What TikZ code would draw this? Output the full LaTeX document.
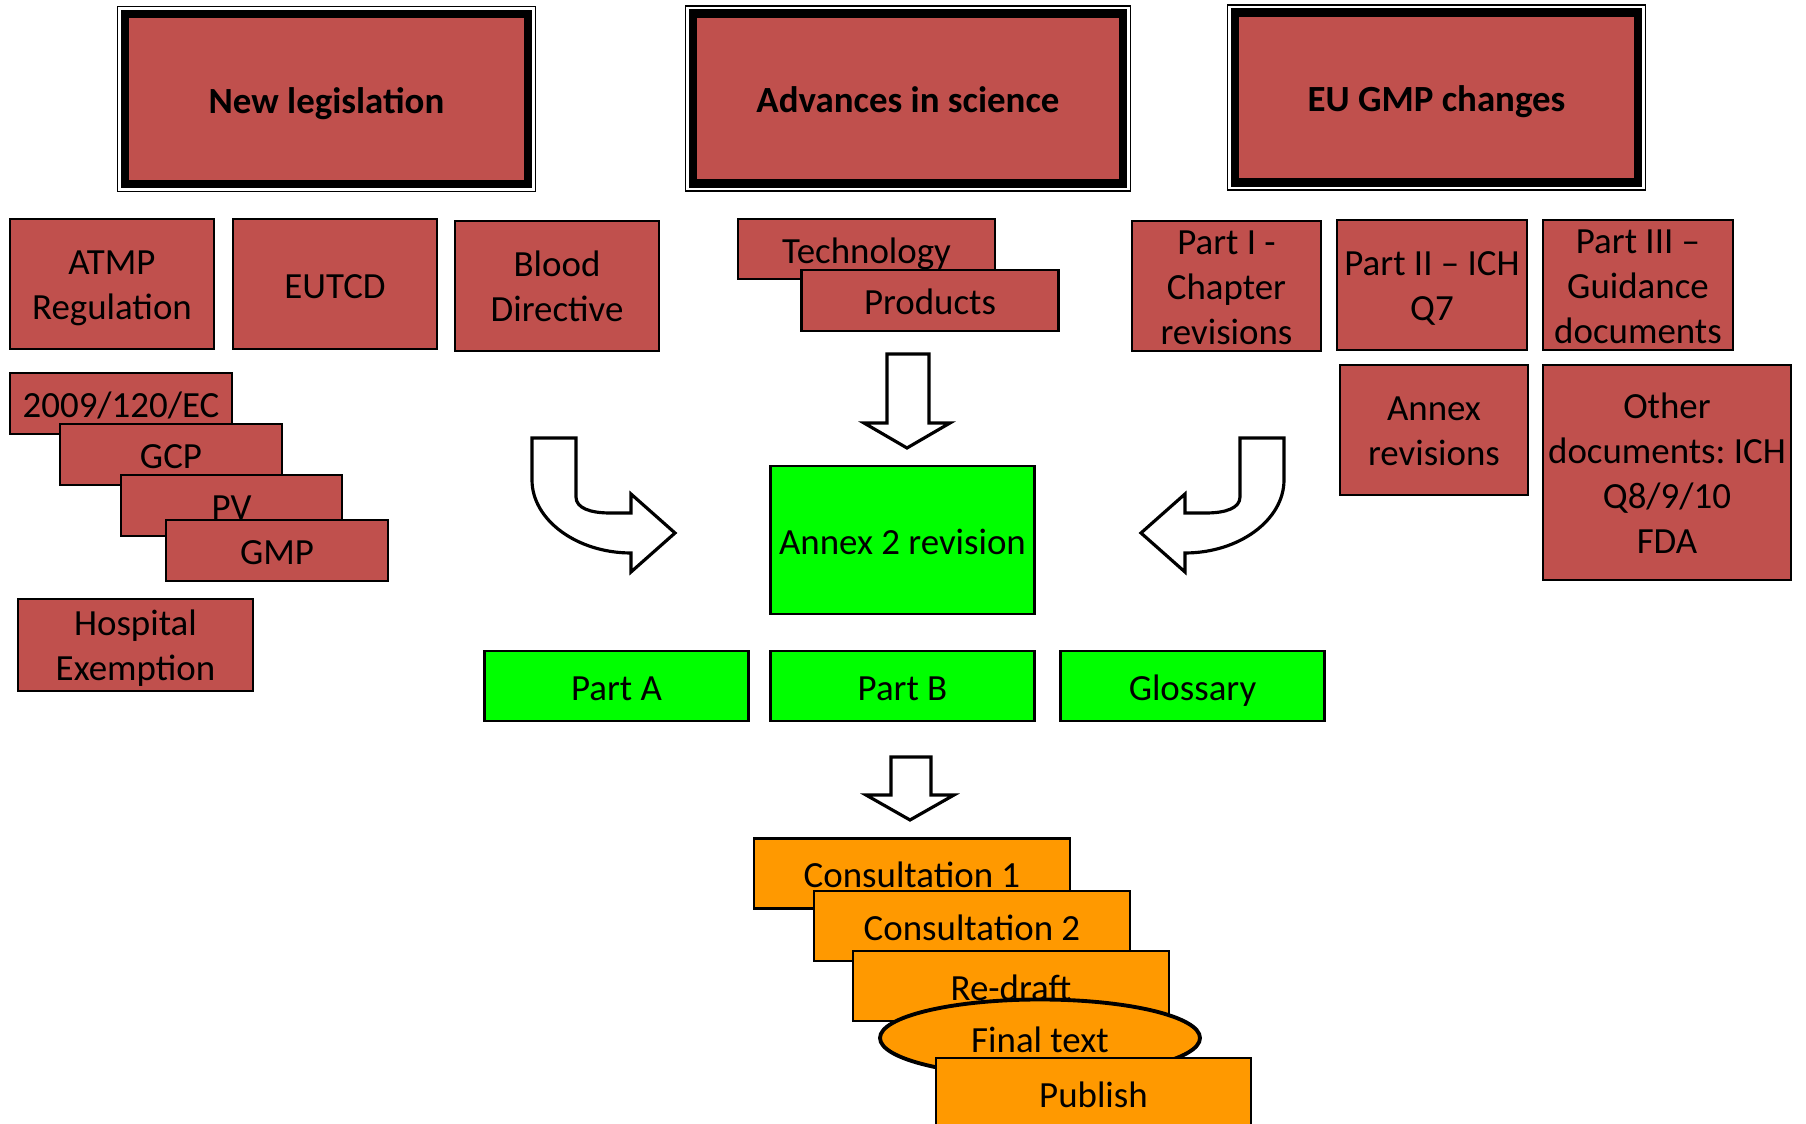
\documentclass[tikz,border=0pt]{standalone}
\usepackage{fontspec}
\setmainfont{Carlito}
\usetikzlibrary{positioning, shapes.geometric}
\definecolor{boxred}{RGB}{192, 80, 77}
\definecolor{revgreen}{RGB}{0, 255, 0}
\definecolor{steporange}{RGB}{255, 153, 0}
\newcommand{\linestrut}{\vrule height 10.4pt depth 2.4pt width 0pt}
\newcommand{\boxlines}[1]{\begin{tabular}{@{}c@{}}\vrule height 11.4pt width 0pt#1\end{tabular}}
\frenchspacing

\begin{document}
\begin{tikzpicture}[
        every node/.style={font=\fontsize{10.5}{12.8}\selectfont,
                           execute at begin node=\linestrut},
        headbox/.style={draw=black, line width=2.3pt, fill=boxred, outer sep=0pt,
                        font=\fontsize{10.5}{12.8}\selectfont\bfseries,
                        minimum height=1.70cm},
        srcbox/.style={draw=black, line width=0.6pt, fill=boxred, inner sep=0pt},
        revbox/.style={draw=black, line width=0.6pt, fill=revgreen,
                       inner sep=0pt, minimum width=2.64cm, minimum height=0.70cm},
        stepbox/.style={draw=black, line width=0.6pt, fill=steporange,
                        inner sep=0pt, minimum width=3.16cm, minimum height=0.70cm},
        blockarrow/.style={draw=black, line width=0.9pt, fill=white, line join=miter}
    ]
        \useasboundingbox (0, 0) rectangle (18.06, -11.24);
        \clip (0, 0) rectangle (18.06, -11.24);

        % three sources of change
        \node[headbox, minimum width=4.03cm] (newleg) at (3.265, -0.99)
            {New legislation};
        \node[headbox, minimum width=4.30cm] (science) at (9.08, -0.985)
            {Advances in science};
        \node[headbox, minimum width=4.03cm] (gmpchg) at (14.365, -0.975)
            {EU GMP changes};
        \foreach \h in {newleg, science, gmpchg}
            \draw[line width=0.45pt] ([shift={(-0.075, 0.075)}]\h.north west)
                rectangle ([shift={(0.075, -0.075)}]\h.south east);

        % legislation
        \node[srcbox, minimum width=2.04cm, minimum height=1.30cm] (atmp)
            at (1.12, -2.84) {\boxlines{ATMP\\Regulation}};
        \node[srcbox, minimum width=2.04cm, minimum height=1.30cm] (eutcd)
            at (3.35, -2.84) {EUTCD};
        \node[srcbox, minimum width=2.04cm, minimum height=1.30cm] (blood)
            at (5.57, -2.86) {\boxlines{Blood\\Directive}};
        \node[srcbox, minimum width=2.22cm, minimum height=0.61cm] (ec2009)
            at (1.21, -4.035) {2009/120/EC};
        \node[srcbox, minimum width=2.22cm, minimum height=0.61cm] (gcp)
            at (1.71, -4.545) {GCP};
        \node[srcbox, minimum width=2.21cm, minimum height=0.61cm] (pv)
            at (2.315, -5.055) {PV};
        \node[srcbox, minimum width=2.22cm, minimum height=0.61cm] (gmp)
            at (2.77, -5.505) {GMP};
        \node[srcbox, minimum width=2.35cm, minimum height=0.92cm, inner ysep=-0.04cm]
            (hospital) at (1.355, -6.45) {\boxlines{Hospital\\Exemption}};

        % science
        \node[srcbox, minimum width=2.57cm, minimum height=0.60cm] (techno)
            at (8.665, -2.49) {Technology};
        \node[srcbox, minimum width=2.57cm, minimum height=0.61cm] (products)
            at (9.30, -3.005) {Products};

        % gmp guide
        \node[srcbox, minimum width=1.89cm, minimum height=1.30cm, inner ysep=-0.07cm]
            (part1) at (12.265, -2.86) {\boxlines{Part I -\\Chapter\\revisions}};
        \node[srcbox, minimum width=1.90cm, minimum height=1.30cm] (part2)
            at (14.32, -2.85) {\boxlines{Part II -- ICH\\Q7}};
        \node[srcbox, minimum width=1.90cm, minimum height=1.30cm, inner ysep=-0.07cm]
            (part3) at (16.38, -2.85) {\boxlines{Part III --\\Guidance\\documents}};
        \node[srcbox, minimum width=1.88cm, minimum height=1.30cm] (annexrev)
            at (14.34, -4.30) {\boxlines{Annex\\revisions}};
        \node[srcbox, minimum width=2.48cm, minimum height=2.15cm] (otherdocs)
            at (16.67, -4.725) {\boxlines{Other\\documents: ICH\\Q8/9/10\\FDA}};

        % block arrows
        \draw[blockarrow] (5.32, -4.38) -- (5.76, -4.38) -- (5.76, -4.97)
            .. controls (5.76, -5.08) and (5.90, -5.13) .. (6.10, -5.13)
            -- (6.31, -5.13) -- (6.31, -4.94) -- (6.75, -5.33) -- (6.31, -5.72)
            -- (6.31, -5.53)
            .. controls (5.77, -5.53) and (5.32, -5.20) .. (5.32, -4.80) -- cycle;
        \draw[blockarrow] (12.84, -4.38) -- (12.40, -4.38) -- (12.40, -4.97)
            .. controls (12.40, -5.08) and (12.26, -5.13) .. (12.06, -5.13)
            -- (11.85, -5.13) -- (11.85, -4.94) -- (11.41, -5.33) -- (11.85, -5.72)
            -- (11.85, -5.53)
            .. controls (12.39, -5.53) and (12.84, -5.20) .. (12.84, -4.80) -- cycle;
        \draw[blockarrow] (8.87, -3.54) -- (9.29, -3.54) -- (9.29, -4.23)
            -- (9.50, -4.23) -- (9.07, -4.48) -- (8.64, -4.23) -- (8.87, -4.23) -- cycle;
        \draw[blockarrow] (8.91, -7.57) -- (9.31, -7.57) -- (9.31, -7.95)
            -- (9.54, -7.95) -- (9.10, -8.20) -- (8.66, -7.95) -- (8.91, -7.95) -- cycle;

        % annex 2
        \node[revbox, minimum height=1.48cm] (annex2) at (9.025, -5.40)
            {Annex 2 revision};
        \node[revbox] (parta) at (6.165, -6.86) {Part A};
        \node[revbox] (partb) at (9.025, -6.86) {Part B};
        \node[revbox] (glossary) at (11.925, -6.86) {Glossary};

        % procedure
        \node[stepbox] (consult1) at (9.12, -8.735) {Consultation 1};
        \node[stepbox] (consult2) at (9.72, -9.26) {Consultation 2};
        \node[stepbox] (redraft) at (10.11, -9.86) {Re-draft};
        \node[ellipse, draw=black, line width=1.1pt, fill=steporange, inner sep=0pt,
              minimum width=3.20cm, minimum height=0.77cm] (finaltext)
            at (10.40, -10.38) {Final text};
        \node[stepbox, minimum width=3.15cm] (publish) at (10.935, -10.93)
            {Publish};
    \end{tikzpicture}
\end{document}
